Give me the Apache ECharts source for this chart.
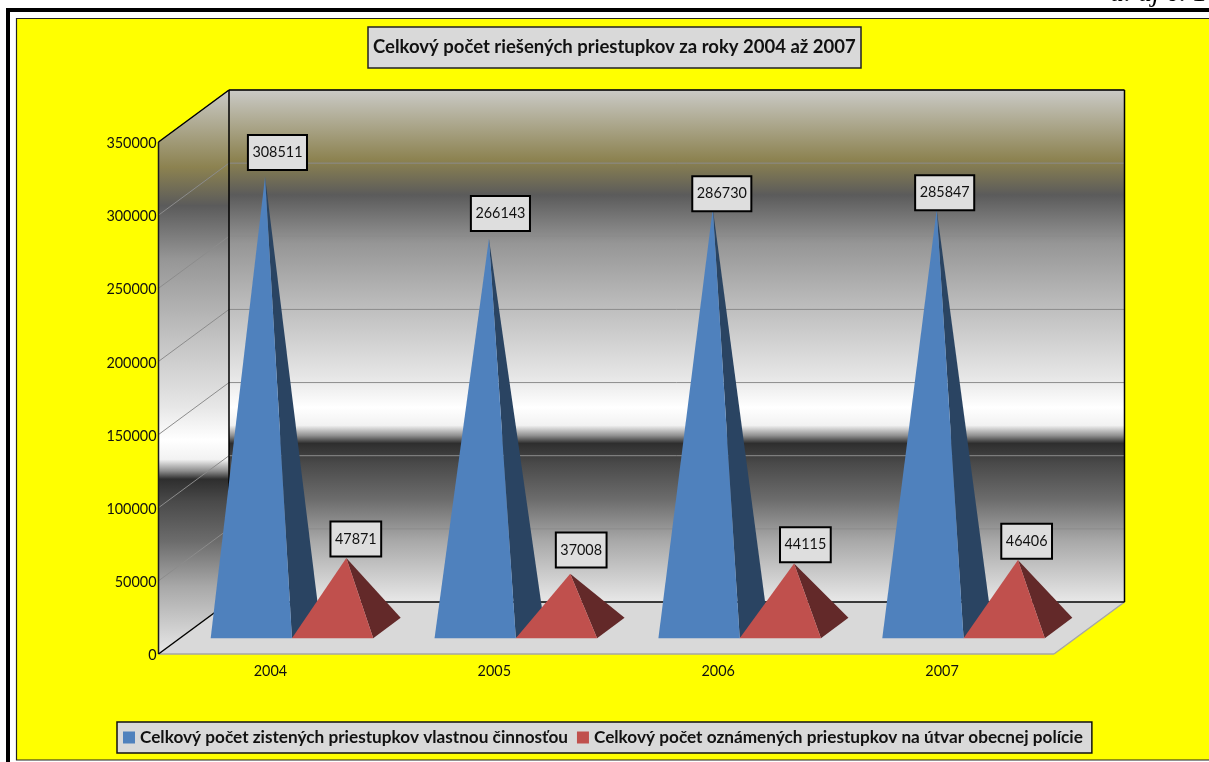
<!DOCTYPE html>
<html>
<head>
<meta charset="utf-8">
<style>html,body{margin:0;padding:0;background:#fff;overflow:hidden}#c{width:1209px;height:762px}</style>
<script src="https://cdn.jsdelivr.net/npm/echarts@6/dist/echarts.min.js"></script>
</head>
<body>
<div id="c"></div>
<script>
const categories = ['2004', '2005', '2006', '2007'];
const seriesOwnName = 'Celkový počet zistených priestupkov vlastnou činnosťou';
const seriesReportedName = 'Celkový počet oznámených priestupkov na útvar obecnej polície';
const ownValues = [308511, 266143, 286730, 285847];
const reportedValues = [47871, 37008, 44115, 46406];
const yTicks = [50000, 100000, 150000, 200000, 250000, 300000, 350000];
const titleText = 'Celkový počet riešených priestupkov za roky 2004 až 2007';

// label nudges, relative to each pyramid apex
const ownLabelNudge = [[12.4, -24.2], [11.5, -25.2], [9, -14.9], [8, -17.2]];
const reportedLabelNudge = [[9.5, -19], [11, -23.9], [11.3, -18.8], [8.7, -18.8]];

const FONT = 'Lato, "Open Sans", sans-serif';
const DEPTH_X = 70.5, DEPTH_Y = -52, Y_MAX = 350000;
const PYR_HALF = 0.1815;        // half width of a pyramid, in bands
const PYR_DEPTH = 0.39;         // depth of a pyramid, as a share of the floor depth

const wallStops = [
  [0, '#cacac6'], [0.137, '#8c8250'], [0.205, '#5b5b5b'], [0.30, '#969696'],
  [0.42, '#bcbcbc'], [0.56, '#e6e6e6'], [0.62, '#ffffff'], [0.655, '#f2f2f2'],
  [0.675, '#909090'], [0.69, '#2e2e2e'], [0.73, '#4a4a4a'], [0.80, '#6c6c6c'],
  [0.88, '#a8a8a8'], [1, '#e8e8e8']
].map(s => ({offset: s[0], color: s[1]}));
const wallFill = () => new echarts.graphic.LinearGradient(0, 0, 0, 1, wallStops);

function line(a, b, stroke, lineWidth) {
  return {type: 'line', shape: {x1: a[0], y1: a[1], x2: b[0], y2: b[1]}, style: {stroke, lineWidth, fill: null}, silent: true};
}
function poly(points, fill) {
  return {type: 'polygon', shape: {points}, style: {fill, stroke: null}, silent: true};
}

function renderWalls(params, api) {
  const band = api.size([1, 0])[0];
  const x0 = api.coord([0, 0])[0] - band / 2;
  const x1 = api.coord([categories.length - 1, 0])[0] + band / 2;
  const yb = api.coord([0, 0])[1];
  const yt = api.coord([0, Y_MAX])[1];
  const fl = [x0, yb], fr = [x1, yb];
  const bl = [x0 + DEPTH_X, yb + DEPTH_Y], br = [x1 + DEPTH_X, yb + DEPTH_Y];
  const ftl = [x0, yt], btl = [x0 + DEPTH_X, yt + DEPTH_Y], btr = [x1 + DEPTH_X, yt + DEPTH_Y];
  return {type: 'group', children: [
    poly([fl, bl, btl, ftl], wallFill()),
    poly([bl, br, btr, btl], wallFill()),
    poly([fl, fr, br, bl], '#d9d9d9')
  ]};
}

function renderGrid(params, api) {
  const band = api.size([1, 0])[0];
  const x0 = api.coord([0, 0])[0] - band / 2;
  const x1 = api.coord([categories.length - 1, 0])[0] + band / 2;
  const p = api.coord([0, api.value(0)]);
  const a = [x0, p[1]], b = [x0 + DEPTH_X, p[1] + DEPTH_Y], c = [x1 + DEPTH_X, p[1] + DEPTH_Y];
  return {type: 'group', children: [line(a, b, '#8c8c8c', 1), line(b, c, '#8c8c8c', 1)]};
}

function renderEdges(params, api) {
  const band = api.size([1, 0])[0];
  const x0 = api.coord([0, 0])[0] - band / 2;
  const x1 = api.coord([categories.length - 1, 0])[0] + band / 2;
  const yb = api.coord([0, 0])[1];
  const yt = api.coord([0, Y_MAX])[1];
  const fl = [x0, yb], fr = [x1, yb];
  const bl = [x0 + DEPTH_X, yb + DEPTH_Y], br = [x1 + DEPTH_X, yb + DEPTH_Y];
  const ftl = [x0, yt], btl = [x0 + DEPTH_X, yt + DEPTH_Y], btr = [x1 + DEPTH_X, yt + DEPTH_Y];
  return {type: 'group', children: [
    line(fl, fr, '#a6a6a6', 1.5),
    line(fr, br, '#a6a6a6', 1.5),
    line(fl, ftl, '#1a1a1a', 1.5),
    line(ftl, btl, '#000', 1.5),
    line(btl, btr, '#000', 1.5),
    line(btr, br, '#000', 1.5),
    line(br, bl, '#000', 1.5),
    line(bl, btl, '#000', 1.5),
    line(bl, fl, '#000', 1.5)
  ]};
}

function pyramidRenderer(side, front, dark, nudge) {
  return function (params, api) {
    const band = api.size([1, 0])[0];
    const hw = band * PYR_HALF;
    const i = api.value(0), v = api.value(1);
    const base = api.coord([i, 0]), top = api.coord([i, v]);
    const cx = base[0] + side * hw + DEPTH_X / 2;
    const cy = base[1] + DEPTH_Y / 2;
    const ddx = DEPTH_X * PYR_DEPTH / 2, ddy = DEPTH_Y * PYR_DEPTH / 2;
    const fl = [cx - ddx - hw, cy - ddy], fr = [cx - ddx + hw, cy - ddy], br = [cx + ddx + hw, cy + ddy];
    const apex = [cx, top[1] + DEPTH_Y / 2];
    return {type: 'group', children: [
      poly([fr, br, apex], dark),
      poly([fl, fr, apex], front),
      {type: 'text', x: apex[0] + nudge[i][0], y: apex[1] + nudge[i][1], z2: 20, silent: true,
       style: {text: String(v), font: '14.4px ' + FONT, fill: '#111', align: 'center', verticalAlign: 'middle',
               lineHeight: 17, backgroundColor: '#dedede', borderColor: '#000', borderWidth: 2, padding: [8, 3.5, 8, 3.5]}}
    ]};
  };
}

const chart = echarts.init(document.getElementById('c'), null, {renderer: 'canvas'});
chart.setOption({
  animation: false,
  backgroundColor: '#ffffff',
  graphic: {elements: [
    {type: 'text', z: -10, left: 1110, top: -20, silent: true, style: {text: 'a. aj č. 1', font: 'italic 28px "Liberation Serif"', fill: '#000'}},
    {type: 'rect', z: -10, silent: true, shape: {x: 8, y: 10, width: 1300, height: 900}, style: {fill: null, stroke: '#000', lineWidth: 4}},
    {type: 'rect', z: -9, silent: true, shape: {x: 16.5, y: 18.5, width: 1300, height: 741.5}, style: {fill: '#ffff00', stroke: '#222', lineWidth: 1.2}}
  ]},
  title: {
    text: titleText, left: 368, top: 27, padding: [11, 5, 11, 5],
    backgroundColor: '#d9d9d9', borderColor: '#222', borderWidth: 1.5,
    textStyle: {fontFamily: FONT, fontSize: 18.5, fontWeight: 'bold', color: '#111', lineHeight: 19}
  },
  legend: {
    data: [seriesOwnName, seriesReportedName], left: 117, top: 722,
    padding: [7, 9, 7, 6], itemWidth: 12, itemHeight: 12, itemGap: 9, icon: 'rect',
    backgroundColor: '#d9d9d9', borderColor: '#111', borderWidth: 1.5,
    textStyle: {fontFamily: FONT, fontSize: 17.2, fontWeight: 'bold', color: '#111'}
  },
  grid: {left: 158.5, top: 142, width: 895.5, height: 512, containLabel: false},
  xAxis: {
    type: 'category', data: categories, boundaryGap: true,
    axisLine: {show: false}, axisTick: {show: false}, splitLine: {show: false},
    axisLabel: {margin: 10, fontFamily: FONT, fontSize: 14.4, color: '#111'}
  },
  yAxis: {
    type: 'value', min: 0, max: Y_MAX, interval: 50000,
    axisLine: {show: false}, axisTick: {show: false}, splitLine: {show: false},
    axisLabel: {margin: 2, fontFamily: FONT, fontSize: 14.4, color: '#111', verticalAlign: 'top', lineHeight: 3, formatter: v => String(v)}
  },
  series: [
    {name: 'walls', type: 'custom', z: 1, coordinateSystem: 'cartesian2d', data: [[0, 0]], renderItem: renderWalls, silent: true},
    {name: 'grid', type: 'custom', z: 2, coordinateSystem: 'cartesian2d', encode: {y: 0}, data: yTicks.map(t => [t]), renderItem: renderGrid, silent: true},
    {name: 'edges', type: 'custom', z: 3, coordinateSystem: 'cartesian2d', data: [[0, 0]], renderItem: renderEdges, silent: true},
    {name: seriesOwnName, type: 'custom', z: 4, coordinateSystem: 'cartesian2d', itemStyle: {color: '#4f81bd'},
     encode: {x: 0, y: 1}, data: ownValues.map((v, i) => [i, v]),
     renderItem: pyramidRenderer(-1, '#4f81bd', '#2a4462', ownLabelNudge)},
    {name: seriesReportedName, type: 'custom', z: 5, coordinateSystem: 'cartesian2d', itemStyle: {color: '#c0504d'},
     encode: {x: 0, y: 1}, data: reportedValues.map((v, i) => [i, v]),
     renderItem: pyramidRenderer(1, '#c0504d', '#632929', reportedLabelNudge)}
  ]
});
</script>
</body>
</html>
